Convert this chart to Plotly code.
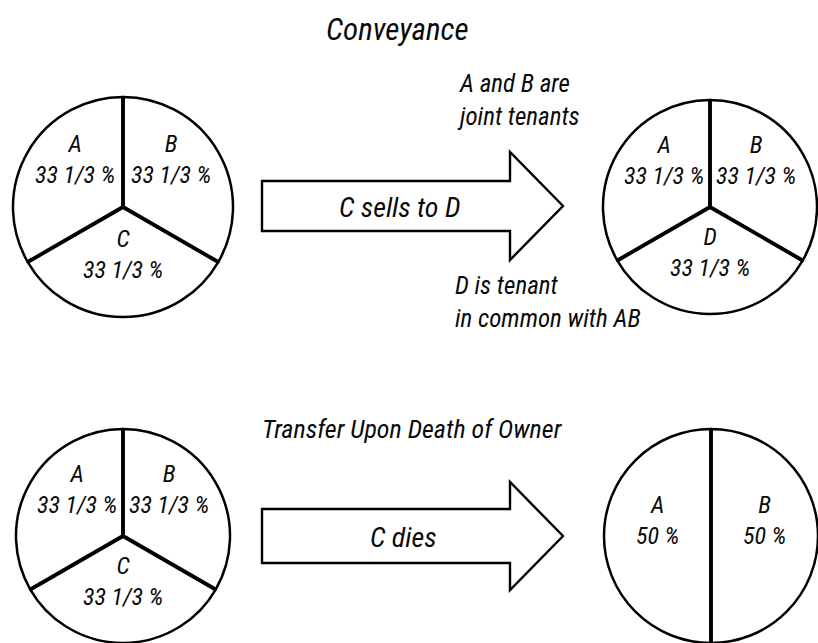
import plotly.graph_objects as go
import math

# ---------------- data ----------------
before_labels = ["A", "B", "C"]
before_values = [1, 1, 1]
before_text = ["33 1/3 %", "33 1/3 %", "33 1/3 %"]

sold_labels = ["A", "B", "D"]
sold_values = [1, 1, 1]
sold_text = ["33 1/3 %", "33 1/3 %", "33 1/3 %"]

after_death_labels = ["A", "B"]
after_death_values = [50, 50]
after_death_text = ["50 %", "50 %"]

title_text = "Conveyance"
top_arrow_text = "C sells to D"
top_note_above = ["A and B are", "joint tenants"]
top_note_below = ["D is tenant", "in common with AB"]
bottom_title = "Transfer Upon Death of Owner"
bottom_arrow_text = "C dies"

# ---------------- layout geometry ----------------
W, H = 818, 643
FONT = "Roboto Condensed, Liberation Sans Narrow, DejaVu Sans Condensed, sans-serif"
INK = "#0a0a0a"

pies = [
    # (labels, values, text, cx, cy, r, rotation)
    (before_labels, before_values, before_text, 123, 207, 110, -120),
    (sold_labels, sold_values, sold_text, 710, 207, 107, -120),
    (before_labels, before_values, before_text, 123, 536, 107, -120),
    (after_death_labels, after_death_values, after_death_text, 711, 536, 107, 180),
]

fig = go.Figure()
annotations = []

def ann(text, x, y, size, xanchor="center"):
    return dict(text=f"<i>{text}</i>", x=x, y=y, xref="x", yref="y",
                xanchor=xanchor, yanchor="middle", align=xanchor if xanchor != "center" else "center",
                showarrow=False, font=dict(family=FONT, size=size, color=INK))

for labels, values, text, cx, cy, r, rot in pies:
    fig.add_trace(go.Pie(
        labels=labels, values=values, text=text,
        sort=False, direction="clockwise", rotation=rot,
        domain=dict(x=[(cx - r) / W, (cx + r) / W], y=[1 - (cy + r) / H, 1 - (cy - r) / H]),
        marker=dict(colors=["rgba(0,0,0,0)"] * len(labels), line=dict(color="#000", width=2.5)),
        textinfo="none", hoverinfo="skip", showlegend=False,
    ))
    total = sum(values)
    cum = 0
    xs, ys = [], []
    k = r / 110.0
    for lab, v, t in zip(labels, values, text):
        ang = math.radians(rot + 360 * cum / total)
        xs += [cx, cx + r * math.sin(ang), None]
        ys += [cy, cy - r * math.cos(ang), None]
        mid = math.radians(rot + 360 * (cum + v / 2) / total)
        lx = cx + 55 * k * math.sin(mid)
        ly = cy - 63 * k * math.cos(mid) - 16 * k
        annotations.append(ann(f"{lab}<br>{t}", lx, ly, 24))
        cum += v
    # thicker radial dividers, from the cumulative shares
    fig.add_trace(go.Scatter(x=xs, y=ys, mode="lines",
                             line=dict(color="#000", width=3.8),
                             hoverinfo="skip", showlegend=False))

# arrows
def arrow_path(x0, x1, xt, yc, half_body, half_head):
    return (f"M{x0},{yc-half_body} L{x1},{yc-half_body} L{x1},{yc-half_head} "
            f"L{xt},{yc} L{x1},{yc+half_head} L{x1},{yc+half_body} L{x0},{yc+half_body} Z")

shapes = [
    dict(type="path", xref="x", yref="y", path=arrow_path(262, 510, 563, 206, 25, 54),
         line=dict(color="#000", width=2.4), fillcolor="white", layer="below"),
    dict(type="path", xref="x", yref="y", path=arrow_path(262, 510, 563, 536, 27, 54),
         line=dict(color="#000", width=2.4), fillcolor="white", layer="below"),
]

annotations += [
    ann(title_text, 397, 29, 31),
    ann("<br>".join(top_note_above), 455, 100, 25, "left"),
    ann(top_arrow_text, 399, 207, 28),
    ann("<br>".join(top_note_below), 453, 302, 25, "left"),
    ann(bottom_title, 260, 429, 26, "left"),
    ann(bottom_arrow_text, 403, 537, 28),
]

fig.update_layout(
    width=W, height=H,
    margin=dict(l=0, r=0, t=0, b=0),
    paper_bgcolor="white", plot_bgcolor="white",
    xaxis=dict(range=[0, W], visible=False, fixedrange=True),
    yaxis=dict(range=[H, 0], visible=False, fixedrange=True),
    shapes=shapes, annotations=annotations,
    showlegend=False,
)

fig.write_html("out.html", config={"displayModeBar": False},
               post_script="document.body.style.margin='0px';")
